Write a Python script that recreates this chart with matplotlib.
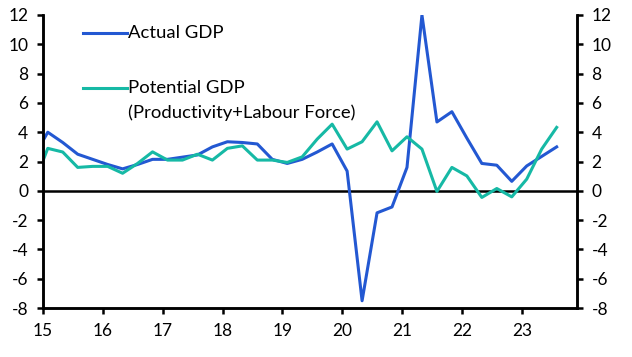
import numpy as np
import matplotlib.pyplot as plt
from matplotlib.lines import Line2D

plt.rcParams["font.family"] = ["Lato", "DejaVu Sans"]
plt.rcParams["axes.unicode_minus"] = False

# quarterly points (year fraction, 15 = 2015)
x_start = 14.83
n_points = 36
actual_gdp = [2.2, 4.0, 3.3, 2.5, 2.15, 1.8, 1.5, 1.8, 2.15, 2.15, 2.3, 2.45,
              3.0, 3.35, 3.3, 3.2, 2.15, 1.87, 2.15, 2.65, 3.2, 1.35,
              -7.5, -1.5, -1.1, 1.6, 12.0, 4.7, 5.4, 3.6, 1.87, 1.75,
              0.65, 1.7, 2.35, 3.0]
potential_gdp = [0.25, 2.9, 2.65, 1.6, 1.67, 1.67, 1.2, 1.87, 2.66, 2.1, 2.1, 2.5,
                 2.1, 2.9, 3.07, 2.1, 2.1, 1.94, 2.32, 3.53, 4.55, 2.85,
                 3.35, 4.71, 2.73, 3.69, 2.85, -0.04, 1.6, 1.02, -0.45, 0.16,
                 -0.41, 0.8, 2.85, 4.33]
years = x_start + 0.25 * np.arange(n_points)

x_ticks = list(range(15, 24))
y_ticks = list(range(-8, 13, 2))

blue = "#2358d2"
teal = "#16b9a5"

fig = plt.figure(figsize=(6.32, 3.57), dpi=100)
ax = fig.add_axes([0.068, 0.137, 0.845, 0.821])

ax.plot(years, actual_gdp, color=blue, lw=2.2)
ax.plot(years, potential_gdp, color=teal, lw=2.2)
ax.axhline(0, color="black", lw=1.8, zorder=1)

ax.set_xlim(15, 23.92)
ax.set_ylim(-8, 12)
ax.set_xticks(x_ticks)
ax.set_xticklabels([str(t) for t in x_ticks])
ax.set_yticks(y_ticks)

ax2 = ax.twinx()
ax2.set_ylim(-8, 12)
ax2.set_yticks(y_ticks)

for a in (ax, ax2):
    a.spines["top"].set_visible(False)
    for s in ("left", "right", "bottom"):
        a.spines[s].set_linewidth(1.8)
    a.tick_params(width=1.8, length=4.5, labelsize=12.5, pad=6, colors="black")

# legend drawn by hand next to the lines
ax.add_line(Line2D([0.075, 0.157], [0.94, 0.94], color=blue, lw=2.2,
                   transform=ax.transAxes))
ax.text(0.159, 0.94, "Actual GDP", transform=ax.transAxes, fontsize=13.3,
        va="center", ha="left")
ax.add_line(Line2D([0.075, 0.157], [0.752, 0.752], color=teal, lw=2.2,
                   transform=ax.transAxes))
ax.text(0.159, 0.752, "Potential GDP", transform=ax.transAxes, fontsize=13.3,
        va="center", ha="left")
ax.text(0.159, 0.668, "(Productivity+Labour Force)", transform=ax.transAxes,
        fontsize=13.3, va="center", ha="left")

fig.savefig("out.png", dpi=100)
